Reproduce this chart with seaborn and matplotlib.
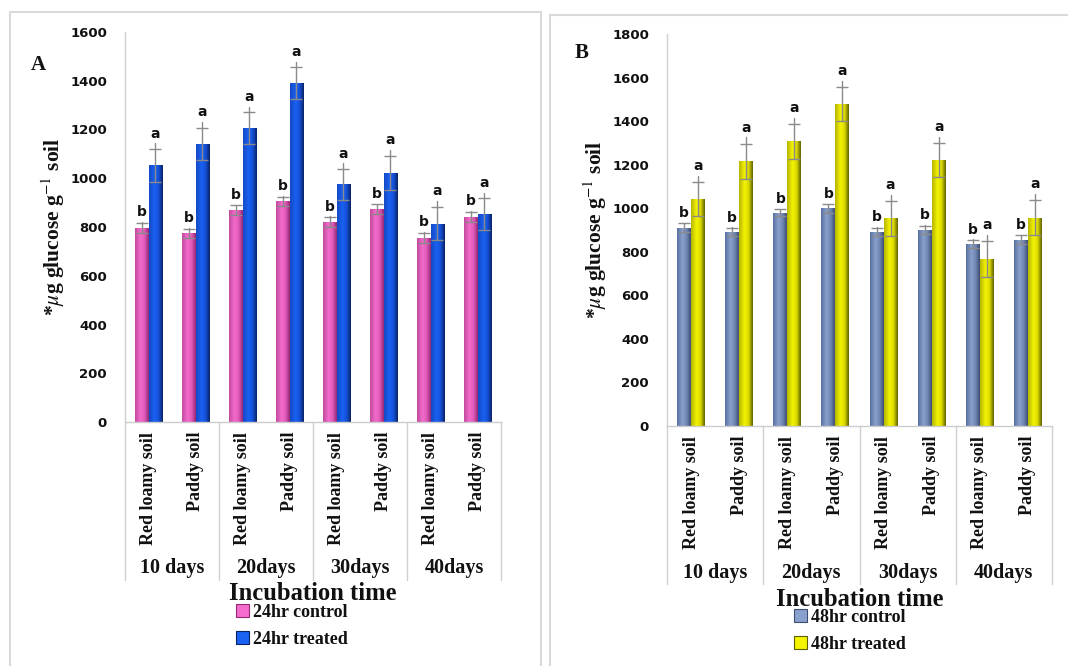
import numpy as np
import pandas as pd
import matplotlib
matplotlib.use("Agg")
import matplotlib.pyplot as plt
import matplotlib.transforms as mtransforms
from matplotlib.colors import LinearSegmentedColormap
import seaborn as sns

# ---------------- data ----------------
days = ["10 days", "20days", "30days", "40days"]
soils = ["Red loamy soil", "Paddy soil"]

a_series = ["24hr control", "24hr treated"]
a_control = [797, 774, 870, 905, 819, 873, 756, 841]
a_treated = [1053, 1142, 1206, 1391, 975, 1022, 814, 852]
a_control_err = [21, 19, 19, 19, 21, 20, 21, 21]
a_treated_err = [67, 66, 65, 64, 64, 70, 68, 66]
a_control_sig = ["b"] * 8
a_treated_sig = ["a"] * 8

b_series = ["48hr control", "48hr treated"]
b_control = [911, 890, 979, 999, 892, 901, 835, 856]
b_treated = [1042, 1216, 1308, 1480, 953, 1221, 766, 957]
b_control_err = [20, 19, 17, 19, 19, 19, 19, 19]
b_treated_err = [80, 81, 80, 78, 81, 79, 82, 80]
b_control_sig = ["b"] * 8
b_treated_sig = ["a"] * 8

# ---------------- style ----------------
sns.set_theme(style="white")
plt.rcParams["font.family"] = ["DejaVu Sans"]
plt.rcParams["mathtext.fontset"] = "stix"
SERIF = ["Liberation Serif", "DejaVu Serif"]

W, H = 1068, 666
fig = plt.figure(figsize=(W / 100, H / 100), dpi=100)


def px_axes(l, t, r, b):
    return fig.add_axes([l / W, (H - b) / H, (r - l) / W, (b - t) / H])


# panel borders
for (l, t, r, b) in [(10, 12, 541, 672), (550, 15, 1075, 672)]:
    fig.patches.append(plt.Rectangle((l / W, (H - b) / H), (r - l) / W, (b - t) / H,
                                     transform=fig.transFigure, fill=False,
                                     edgecolor="#d9d9d9", linewidth=1.5))

shades = {
    "24hr control": ["#c04a9c", "#f46ccd", "#e05ab8", "#952675"],
    "24hr treated": ["#1448c4", "#1a62f2", "#1450d8", "#0a2262"],
    "48hr control": ["#5870a2", "#8aa0cc", "#6f86b6", "#3f4d70"],
    "48hr treated": ["#b4b400", "#f4f400", "#dada00", "#5e5e00"],
}
base = {k: v[1] for k, v in shades.items()}


def panel(ax_box, series, ctrl, trt, cerr, terr, csig, tsig, ymax, ystep,
          letter, letter_xy, legend_xy, title_y, group_y, box_bottom):
    ax = px_axes(*ax_box)
    keys = [f"{d}|{s}" for d in days for s in soils]
    df = pd.DataFrame({
        "cat": keys * 2,
        "series": [series[0]] * 8 + [series[1]] * 8,
        "value": list(ctrl) + list(trt),
    })
    sns.barplot(data=df, x="cat", y="value", hue="series", order=keys,
                hue_order=series, palette=[base[series[0]], base[series[1]]],
                width=0.58, errorbar=None, ax=ax, legend=False,
                edgecolor="none", linewidth=0)

    # gradient shading of each bar
    patches = list(ax.patches)
    ser_of_patch = [series[0]] * 8 + [series[1]] * 8
    grad = np.linspace(0, 1, 64).reshape(1, -1)
    for p, sname in zip(patches, ser_of_patch):
        cmap = LinearSegmentedColormap.from_list(sname, list(zip([0, 0.4, 0.7, 1.0], shades[sname])))
        x0, y0 = p.get_x(), p.get_y()
        w, h = p.get_width(), p.get_height()
        im = ax.imshow(grad, cmap=cmap, aspect="auto",
                       extent=(x0, x0 + w, y0, y0 + h), zorder=2, interpolation="bicubic")
        im.set_clip_path(p)

    ax.set_xlim(-0.5, 7.5)
    ax.set_ylim(0, ymax)

    # error bars and letters
    vals = [list(ctrl), list(trt)]
    errs = [list(cerr), list(terr)]
    sigs = [list(csig), list(tsig)]
    ext = [0.15, 0.35]
    for si in range(2):
        for i in range(8):
            p = patches[si * 8 + i]
            xc = p.get_x() + p.get_width() / 2
            v, e = vals[si][i], errs[si][i]
            ax.errorbar(xc, v, yerr=e, fmt="none", ecolor="#8a8a8a",
                        elinewidth=1, capsize=4, capthick=1, zorder=4)
            top = v + e * (1 + ext[si])
            ax.plot([xc, xc], [v + e, top], color="#8a8a8a", lw=1, zorder=4)
            ax.annotate(sigs[si][i], (xc, top), xytext=(0, 2), textcoords="offset points",
                        ha="center", va="bottom", fontsize=10, fontweight="bold",
                        color="#111111")

    # axes styling
    ax.set_yticks(np.arange(0, ymax + 1, ystep))
    ax.set_yticklabels([str(int(t)) for t in np.arange(0, ymax + 1, ystep)],
                       fontsize=9.5, fontweight="bold", color="#111111")
    ax.tick_params(axis="y", length=0, pad=13)
    ax.set_xticks(range(8))
    ax.set_xticklabels([s for d in days for s in soils], rotation=90,
                       fontsize=13, fontweight="bold", family=SERIF, color="#111111")
    ax.tick_params(axis="x", length=0, pad=7)
    ax.set_xlabel("")
    for s in ["top", "right"]:
        ax.spines[s].set_visible(False)
    ax.spines["left"].set_color("#d0d0d0")
    ax.spines["bottom"].set_color("#cccccc")
    ax.spines["left"].set_linewidth(1)
    ax.spines["bottom"].set_linewidth(1)
    ax.grid(False)

    ax.set_ylabel(r"*$\mu$g glucose g$^{-1}$ soil", fontsize=15.5, fontweight="bold",
                  family=SERIF, color="#111111", labelpad=2)

    # category box lines
    trans = mtransforms.blended_transform_factory(ax.transData, ax.transAxes)
    depth = -(box_bottom - ax_box[3]) / (ax_box[3] - ax_box[1])
    for xb in [-0.5, 1.5, 3.5, 5.5, 7.5]:
        ax.plot([xb, xb], [0, depth], transform=trans, color="#d0d0d0", lw=1,
                clip_on=False)
    gy = -(group_y - ax_box[3]) / (ax_box[3] - ax_box[1])
    for gi, d in enumerate(days):
        ax.text(gi * 2 + 0.5, gy, d, transform=trans, ha="center", va="center",
                fontsize=14.5, fontweight="bold", family=SERIF, color="#111111")

    ty = -(title_y - ax_box[3]) / (ax_box[3] - ax_box[1])
    ax.text(0.5, ty, "Incubation time", transform=ax.transAxes, ha="center",
            va="center", fontsize=17.7, fontweight="bold", family=SERIF, color="#111111")

    fig.text(letter_xy[0] / W, 1 - letter_xy[1] / H, letter, fontsize=15,
             fontweight="bold", family=SERIF, ha="center", va="center", color="#111111")

    # legend
    handles = [plt.Rectangle((0, 0), 1, 1, facecolor=shades[s][1], edgecolor=shades[s][3],
                             linewidth=0.8) for s in series]
    leg = fig.legend(handles, series, loc="upper left",
                     bbox_to_anchor=(legend_xy[0] / W, 1 - legend_xy[1] / H),
                     frameon=False, handlelength=0.7, handleheight=0.7,
                     handletextpad=0.25, labelspacing=0.55, borderpad=0,
                     borderaxespad=0, prop={"family": SERIF, "weight": "bold", "size": 13})
    for t in leg.get_texts():
        t.set_color("#111111")
    return ax


panel((125, 32, 501, 422), a_series, a_control, a_treated, a_control_err, a_treated_err,
      a_control_sig, a_treated_sig, 1600, 200, "A", (38, 65), (236, 604), 594, 568, 580)
panel((667, 34, 1052, 426), b_series, b_control, b_treated, b_control_err, b_treated_err,
      b_control_sig, b_treated_sig, 1800, 200, "B", (582, 53), (794, 609), 599, 573, 584)

fig.savefig("out.png", dpi=100)
